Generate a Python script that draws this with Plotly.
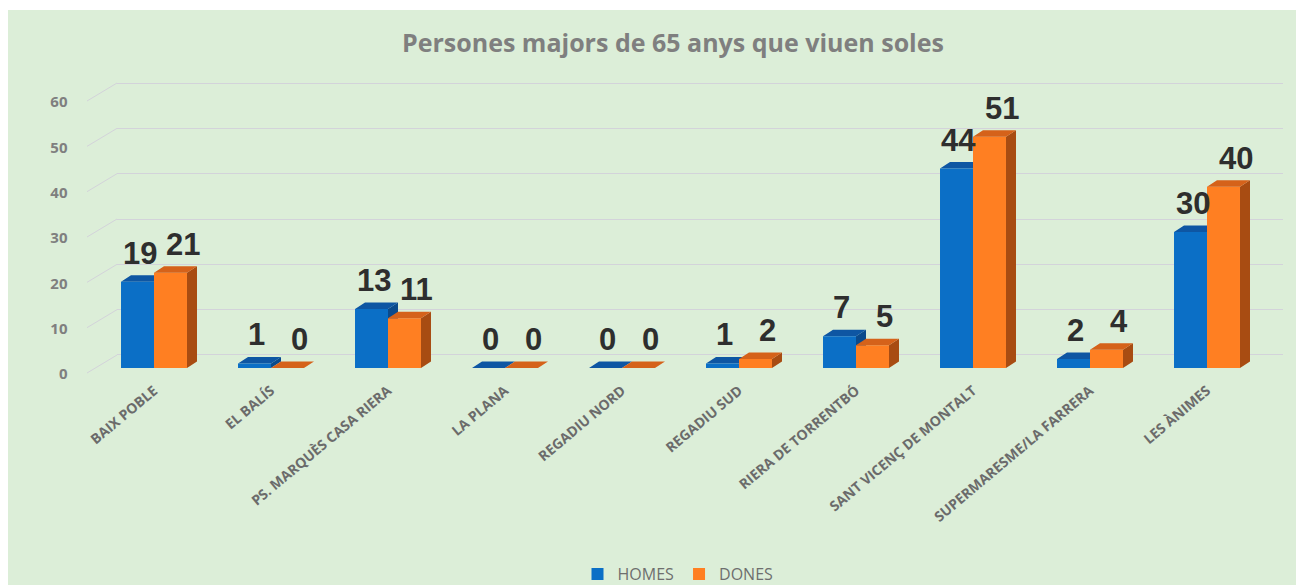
import plotly.graph_objects as go

# ---------------- data ----------------
categories = ["BAIX POBLE", "EL BALÍS", "PS. MARQUÈS CASA RIERA", "LA PLANA",
              "REGADIU NORD", "REGADIU SUD", "RIERA DE TORRENTBÓ",
              "SANT VICENÇ DE MONTALT", "SUPERMARESME/LA FARRERA", "LES ÀNIMES"]
homes = [19, 1, 13, 0, 0, 1, 7, 44, 2, 30]
dones = [21, 0, 11, 0, 0, 2, 5, 51, 4, 40]
y_ticks = [0, 10, 20, 30, 40, 50, 60]
title_text = "Persones majors de 65 anys que viuen soles"

# ---------------- geometry (reference pixels -> paper) ----------------
PAGE_PAD = 8                     # browser body margin
W, H = 1304 - PAGE_PAD, 585 - PAGE_PAD
def px(x):
    return (x - PAGE_PAD) / W
def py(y):
    return (H - (y - PAGE_PAD)) / H

YMAX = 60
pxu = 4.533                      # pixels per unit
bar_w = 0.282                    # bar width in category units
cat_px = 117.0                   # pixels per category
ddx = 10.0 / cat_px              # depth offset in x units
ddy = 6.5 / pxu                  # depth offset in y units

front_x_dom = [px(95.5), px(1265.5)]
front_y_dom = [py(368), py(368 - YMAX * pxu)]
back_x_dom = [px(117), px(1283)]
back_y_dom = [py(355 + pxu), py(355 - (YMAX + 1) * pxu)]

C_BLUE, C_BLUE_TOP, C_BLUE_SIDE = "#0B6FC6", "#0E56A3", "#0A4A8C"
C_OR, C_OR_TOP, C_OR_SIDE = "#FF7F22", "#D5621A", "#A84C12"
GRID = "#D3D3DA"
TXT_GRAY = "#7F7F7F"

xs = list(range(len(categories)))

def faces(values, left_offset):
    tx, ty, sx, sy = [], [], [], []
    for i, v in zip(xs, values):
        xl = i + left_offset
        xr = xl + bar_w
        tx += [xl, xl + ddx, xr + ddx, xr, xl, None]
        ty += [v, v + ddy, v + ddy, v, v, None]
        sx += [xr, xr + ddx, xr + ddx, xr, xr, None]
        sy += [0, ddy, v + ddy, v, 0, None]
    return tx, ty, sx, sy

fig = go.Figure()

# back wall gridlines subplot (xy)
fig.add_trace(go.Scatter(x=[None], y=[None], xaxis="x", yaxis="y",
                         showlegend=False, hoverinfo="skip"))

# blue depth faces (below bars)
btx, bty, bsx, bsy = faces(homes, -bar_w)
fig.add_trace(go.Scatter(x=bsx, y=bsy, xaxis="x2", yaxis="y2", mode="lines",
                         fill="toself", fillcolor=C_BLUE_SIDE, line=dict(width=0),
                         showlegend=False, hoverinfo="skip"))
fig.add_trace(go.Scatter(x=btx, y=bty, xaxis="x2", yaxis="y2", mode="lines",
                         fill="toself", fillcolor=C_BLUE_TOP, line=dict(width=0),
                         showlegend=False, hoverinfo="skip"))

# front faces (bars)
fig.add_trace(go.Bar(x=xs, y=homes, name="HOMES", xaxis="x3", yaxis="y3",
                     width=bar_w, offset=-bar_w, marker=dict(color=C_BLUE, line=dict(width=0))))
fig.add_trace(go.Bar(x=xs, y=dones, name="DONES", xaxis="x3", yaxis="y3",
                     width=bar_w, offset=0, marker=dict(color=C_OR, line=dict(width=0))))

# orange depth faces (above bars)
otx, oty, osx, osy = faces(dones, 0)
fig.add_trace(go.Scatter(x=osx, y=osy, xaxis="x4", yaxis="y4", mode="lines",
                         fill="toself", fillcolor=C_OR_SIDE, line=dict(width=0),
                         showlegend=False, hoverinfo="skip"))
fig.add_trace(go.Scatter(x=otx, y=oty, xaxis="x4", yaxis="y4", mode="lines",
                         fill="toself", fillcolor=C_OR_TOP, line=dict(width=0),
                         showlegend=False, hoverinfo="skip"))

# data labels
annotations = []
lab_font = dict(family="Liberation Sans, Arial", size=31, color="#2E2E2E", weight="bold")
for i, (h, d) in enumerate(zip(homes, dones)):
    annotations.append(dict(x=i - bar_w / 2, y=h, xref="x3", yref="y3", text=str(h),
                            showarrow=False, yanchor="bottom", xshift=2, yshift=9,
                            font=lab_font))
    annotations.append(dict(x=i + bar_w / 2, y=d, xref="x3", yref="y3", text=str(d),
                            showarrow=False, yanchor="bottom", xshift=12, yshift=9,
                            font=lab_font))

# title
annotations.append(dict(x=px(673), y=py(42), xref="paper", yref="paper", text=title_text,
                        showarrow=False, xanchor="center", yanchor="middle",
                        font=dict(family="Open Sans", size=25, color=TXT_GRAY, weight="bold")))

# green chart area + side-wall gridline diagonals (from tick values)
shapes = [dict(type="rect", xref="paper", yref="paper", x0=0, x1=1, y0=0, y1=py(10),
               fillcolor="#DCEED8", line=dict(width=0), layer="below")]
for v in y_ticks:
    shapes.append(dict(type="line", xref="paper", yref="paper",
                       x0=px(87), y0=py(373 - v * pxu), x1=px(117), y1=py(355 - v * pxu),
                       line=dict(color=GRID, width=1), layer="below"))

hidden = dict(visible=False, fixedrange=True, automargin=False)
front_x = dict(domain=front_x_dom, range=[-0.5, len(categories) - 0.5])
front_y = dict(domain=front_y_dom, range=[0, YMAX])

fig.update_layout(
    template="none",
    width=W, height=H,
    margin=dict(l=0, r=0, t=0, b=0, pad=0, autoexpand=False),
    paper_bgcolor="white",
    plot_bgcolor="rgba(0,0,0,0)",
    barmode="overlay",
    showlegend=True,
    legend=dict(orientation="h", x=px(678), xanchor="center", y=py(574), yanchor="middle",
                font=dict(family="Open Sans", size=16, color="#6E6E6E"),
                bgcolor="rgba(0,0,0,0)", itemwidth=30, traceorder="normal"),
    xaxis=dict(domain=back_x_dom, range=[0, 1], showgrid=False, zeroline=False,
               showticklabels=False, showline=False, fixedrange=True, automargin=False),
    yaxis=dict(domain=back_y_dom, range=[-1, YMAX + 1], tickvals=y_ticks, showgrid=True,
               gridcolor=GRID, gridwidth=1, zeroline=False, showticklabels=False,
               showline=False, ticks="", fixedrange=True, automargin=False),
    xaxis2=dict(anchor="y2", **front_x, **hidden),
    yaxis2=dict(anchor="x2", **front_y, **hidden),
    xaxis3=dict(anchor="y3", **front_x, tickvals=xs, ticktext=categories, tickangle=-40,
                showgrid=False, zeroline=False, showline=False, ticks="",
                ticklabelstandoff=11, automargin=False,
                tickfont=dict(family="Open Sans", size=14, color="#6B6B6B", weight="bold"),
                fixedrange=True),
    yaxis3=dict(anchor="x3", **front_y, tickvals=y_ticks, showgrid=False, zeroline=False,
                showline=False, ticks="", ticklabelstandoff=27, ticklabelshift=6,
                automargin=False,
                tickfont=dict(family="Open Sans", size=15, color=TXT_GRAY, weight="bold"),
                fixedrange=True),
    xaxis4=dict(anchor="y4", **front_x, **hidden),
    yaxis4=dict(anchor="x4", **front_y, **hidden),
    annotations=annotations,
    shapes=shapes,
)

fig.write_html("out.html")
